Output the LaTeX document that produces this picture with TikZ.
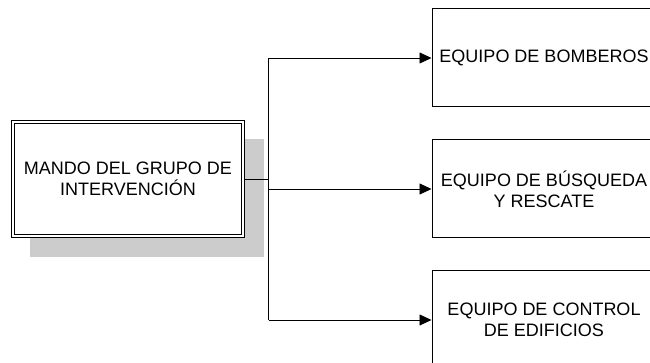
\documentclass[tikz,border=0pt]{standalone}
\usepackage{fontspec}
\setmainfont{Liberation Sans}
\usetikzlibrary{arrows.meta,positioning,shadows}

\begin{document}
\begin{tikzpicture}[x=1pt, y=1pt,
    texto/.style={font=\fontsize{18}{21}\selectfont, align=center, inner sep=0pt},
    caja/.style={texto, draw, line width=1pt, minimum width=224pt, minimum height=98pt},
    mando/.style={texto, draw, double, double distance=2pt, line width=0.9pt, fill=white,
        outer sep=1.9pt, minimum width=230pt, minimum height=114pt,
        drop shadow={shadow xshift=19pt, shadow yshift=-19pt, fill=gray!40,
            draw=gray!40, line width=3.8pt, opacity=1}},
    flecha/.style={-{Triangle[length=12pt, width=11pt]}, line width=0.8pt}]
    \useasboundingbox (0,0) rectangle (650,363);
    \clip (0,0) rectangle (650,363);

    % Mando y equipos
    \node[mando] (mando) at (128,184) {MANDO DEL GRUPO DE\\INTERVENCIÓN};
    \node[caja] (bomberos) at (544,305) {EQUIPO DE BOMBEROS};
    \node[caja, below=32pt of bomberos] (busqueda) {EQUIPO DE BÚSQUEDA\\Y RESCATE};
    \node[caja, below=32pt of busqueda] (control) {EQUIPO DE CONTROL\\DE EDIFICIOS};

    % Reparto hacia los equipos
    \coordinate (reparto) at (268.5,184);
    \draw[line width=0.8pt] (mando.east) -- (reparto |- mando.east);
    \draw[line width=0.8pt] (reparto |- bomberos.west) -- (reparto |- control.west);
    \draw[flecha] (reparto |- bomberos.west) -- (bomberos.west);
    \draw[flecha] (reparto |- busqueda.west) -- (busqueda.west);
    \draw[flecha] (reparto |- control.west) -- (control.west);
\end{tikzpicture}
\end{document}
